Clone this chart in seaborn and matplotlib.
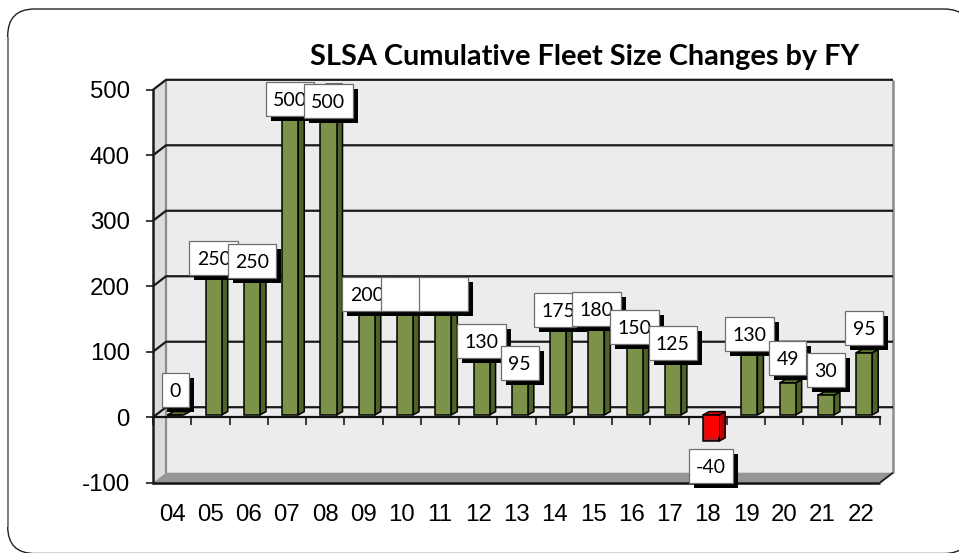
"""
SLSA cumulative fleet size changes by fiscal year, faux 3D column chart
"""

import pandas as pd
import matplotlib
matplotlib.use("Agg")
import matplotlib.pyplot as plt
import seaborn as sns
from matplotlib.patches import Polygon, Rectangle, FancyBboxPatch
from matplotlib.transforms import Affine2D, IdentityTransform

fiscal_years = ['04', '05', '06', '07', '08', '09', '10', '11', '12', '13',
                '14', '15', '16', '17', '18', '19', '20', '21', '22']
fleet_changes = [0, 250, 250, 500, 500, 200, 200, 200, 130, 95,
                 175, 180, 150, 125, -40, 130, 49, 30, 95]
value_labels = ['0', '250', '250', '500', '500', '200', '', '', '130', '95',
                '175', '180', '150', '125', '-40', '130', '49', '30', '95']
y_ticks = [-100, 0, 100, 200, 300, 400, 500]
title = 'SLSA Cumulative Fleet Size Changes by FY'

# how far each label box top sits above its bar top, pixels (they were hand placed)
label_lift = [42, 10, 7, 5, 3, 7, 7, 7, 6, 7, 7, 5, 7, 7, -8, 13, 42, 42, 42]

WIDTH, HEIGHT = 959, 553
WALL_DX, WALL_DY = 13, 10      # depth of the back wall
BAR_DX, BAR_DY = 6, 3.3        # depth of a column
SHIFT_X, SHIFT_Y = 3.3, 2.3    # columns stand a bit behind the axis line
GREEN, GREEN_SIDE, GREEN_TOP = '#7F9E3C', '#4F6228', '#5F7A2E'
RED, RED_SIDE, RED_TOP = '#D80000', '#C00000', '#E00000'

sns.set_theme(style='white')
plt.rcParams['font.family'] = ['Liberation Sans', 'DejaVu Sans']
plt.rcParams['axes.unicode_minus'] = False

df = pd.DataFrame({'fy': fiscal_years, 'change': fleet_changes})
df['sign'] = ['down' if v < 0 else 'up' for v in fleet_changes]

fig = plt.figure(figsize=(WIDTH / 100, HEIGHT / 100), dpi=100, facecolor='white')
ax = fig.add_axes([153 / WIDTH, (HEIGHT - 482.7) / HEIGHT, 727 / WIDTH, 392.9 / HEIGHT])
ax.patch.set_visible(False)

sns.barplot(data=df, x='fy', y='change', hue='sign', order=fiscal_years,
            palette={'up': GREEN, 'down': RED}, dodge=False, width=0.42,
            edgecolor='black', linewidth=1.1, legend=False, zorder=4, ax=ax)
ax.set_xlim(-0.5, len(fiscal_years) - 0.5)
ax.set_ylim(-100, 500)
ax.set_xlabel('')
ax.set_ylabel('')


def to_px(x, y):
    return ax.transData.transform((x, y))


def poly(points, face, edge='none', lw=0, z=1):
    ax.add_patch(Polygon(points, closed=True, facecolor=face, edgecolor=edge, linewidth=lw,
                         transform=IdentityTransform(), clip_on=False, zorder=z))


def line(points, color='#1A1A1A', lw=1.5, z=1.5):
    xs, ys = zip(*points)
    ax.plot(xs, ys, color=color, lw=lw, transform=IdentityTransform(), clip_on=False,
            zorder=z, solid_capstyle='butt')


# panel behind the chart, runs off the right side of the slide
fig.add_artist(FancyBboxPatch((7.7 + 27, HEIGHT - 553.5 + 27), 971 - 7.7 - 54, 553.5 - 9 - 54,
                              boxstyle='round,pad=27', facecolor='white', edgecolor='#222222',
                              linewidth=1.0, transform=IdentityTransform(), zorder=-5))
line([(7.7, HEIGHT - 37), (7.7, HEIGHT - 527)], color='#808080', lw=1.4)

# walls and floor
left, right = -0.5, len(fiscal_years) - 0.5
x0, y0 = to_px(left, -100)
x1, y1 = to_px(right, 500)
poly([(x0 + WALL_DX, y0 + WALL_DY), (x1 + WALL_DX, y0 + WALL_DY),
      (x1 + WALL_DX, y1 + WALL_DY), (x0 + WALL_DX, y1 + WALL_DY)], '#ECECEC', z=0.5)
poly([(x0, y0), (x0 + WALL_DX, y0 + WALL_DY), (x0 + WALL_DX, y1 + WALL_DY), (x0, y1)], '#DCDCDC', z=0.6)
poly([(x0, y0), (x1, y0), (x1 + WALL_DX, y0 + WALL_DY), (x0 + WALL_DX, y0 + WALL_DY)], '#969696', z=0.6)
line([(x0 + WALL_DX, y0 + WALL_DY), (x0 + WALL_DX, y1 + WALL_DY)], color='#8C8C8C', lw=1.6)
line([(x1 + WALL_DX, y0 + WALL_DY), (x1 + WALL_DX, y1 + WALL_DY)], color='#8C8C8C', lw=1.8)
line([(x1, y0), (x1 + WALL_DX, y0 + WALL_DY)], color='#1A1A1A', lw=1.3)
line([(x0, y0), (x1, y0)], color='#111111', lw=1.8, z=2)

for tick in y_ticks[1:]:
    _, gy = to_px(left, tick)
    line([(x0, gy), (x0 + WALL_DX, gy + WALL_DY), (x1 + WALL_DX, gy + WALL_DY)], lw=1.6)

# shift the seaborn columns and give them depth
shift = Affine2D().translate(SHIFT_X, SHIFT_Y)
for bar in list(ax.patches):
    if not isinstance(bar, Rectangle) or bar.get_width() > 1:
        continue
    xa = bar.get_x()
    xb = xa + bar.get_width()
    val = bar.get_height()
    bar.set_transform(ax.transData + shift)
    bar.set_clip_on(False)
    (ax_, y_base), (bx_, y_end) = to_px(xa, 0), to_px(xb, val)
    ax_, bx_ = ax_ + SHIFT_X, bx_ + SHIFT_X
    y_base, y_end = y_base + SHIFT_Y, y_end + SHIFT_Y
    y_top, y_low = max(y_base, y_end), min(y_base, y_end)
    side, top = (RED_SIDE, RED_TOP) if val < 0 else (GREEN_SIDE, GREEN_TOP)
    poly([(bx_, y_low), (bx_ + BAR_DX, y_low + BAR_DY), (bx_ + BAR_DX, y_top + BAR_DY), (bx_, y_top)],
         side, 'black', 1.1, z=3)
    poly([(ax_, y_top), (bx_, y_top), (bx_ + BAR_DX, y_top + BAR_DY), (ax_ + BAR_DX, y_top + BAR_DY)],
         top, 'black', 1.1, z=3)
    if val < 0:
        # bright inner face of the red column
        poly([(ax_ + 3, y_low + 4), (bx_, y_low + 4), (bx_, y_top - 1), (ax_ + 3, y_top - 1)], '#FF0000', z=4.5)

# axes lines and ticks
sns.despine(ax=ax, top=True, right=True)
ax.spines['left'].set_color('#1A1A1A')
ax.spines['left'].set_linewidth(1.8)
ax.spines['left'].set_zorder(2.5)
ax.spines['bottom'].set_position(('data', 0))
ax.spines['bottom'].set_color('#111111')
ax.spines['bottom'].set_linewidth(1.6)
ax.spines['bottom'].set_zorder(2.5)
ax.set_yticks(y_ticks)
ax.tick_params(axis='y', which='major', left=True, length=5.2, width=1.2, color='#1A1A1A',
               pad=11.5, labelsize=17.3, labelcolor='black')
ax.tick_params(axis='x', which='major', bottom=False, pad=56.5, labelsize=17.3, labelcolor='black')
ax.set_xticks([i - 0.5 for i in range(len(fiscal_years) + 1)], minor=True)
ax.tick_params(axis='x', which='minor', bottom=True, length=6, width=1.2, color='#1A1A1A')

# value labels, each a white box with a hard black drop shadow
box_widths = {0: 48.5, 1: 27, 2: 37.7, 3: 48.5}
for i, (val, text) in enumerate(zip(fleet_changes, value_labels)):
    cx, y_bar = to_px(i, val)
    cx += SHIFT_X
    top_y = y_bar + SHIFT_Y + label_lift[i]
    w = 44.3 if val < 0 else box_widths[len(text)]
    h = 34
    z = 6 + i * 0.1
    ax.add_patch(Rectangle((cx - w / 2 + 5, top_y - h - 5), w, h, facecolor='black', edgecolor='none',
                           transform=IdentityTransform(), clip_on=False, zorder=z))
    ax.add_patch(Rectangle((cx - w / 2, top_y - h), w, h, facecolor='white', edgecolor='#6E6E6E', linewidth=0.9,
                           transform=IdentityTransform(), clip_on=False, zorder=z + 0.01))
    if text:
        ax.text(cx, top_y - h / 2, text, ha='center', va='center_baseline', fontsize=14,
                family=['Lato', 'DejaVu Sans'], color='black',
                transform=IdentityTransform(), clip_on=False, zorder=z + 0.02)

fig.text(584.5 / WIDTH, 1 - 56.5 / HEIGHT, title, ha='center', va='center', fontsize=20.8, fontweight='bold',
         family=['Lato', 'DejaVu Sans'], color='black')

fig.savefig('out.png', dpi=100)
